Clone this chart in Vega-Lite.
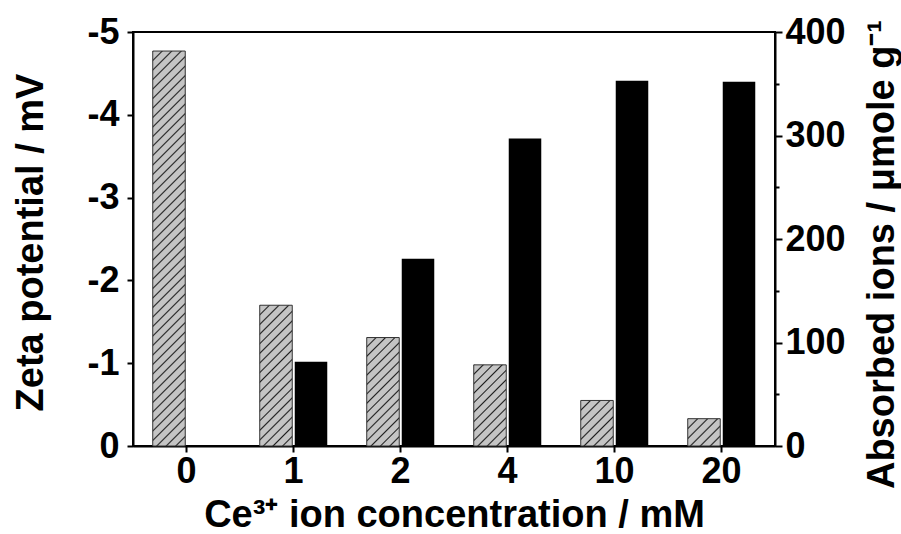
{
  "$schema": "https://vega.github.io/schema/vega-lite/v6.json",
  "width": 642,
  "height": 414,
  "autosize": {"type": "none"},
  "padding": {"left": 133, "top": 32, "right": 126, "bottom": 88},
  "background": "white",
  "config": {
    "font": "Liberation Sans",
    "view": {"stroke": "black", "strokeWidth": 2},
    "axis": {
      "domainColor": "black",
      "domainWidth": 2,
      "tickColor": "black",
      "tickWidth": 2,
      "labelColor": "black",
      "titleColor": "black",
      "labelFont": "Liberation Sans",
      "titleFont": "Liberation Sans",
      "labelFontWeight": "bold",
      "titleFontWeight": "bold",
      "labelFontSize": 36,
      "titleFontSize": 38,
      "grid": false
    }
  },
  "data": {
    "values": [
      {"c": "0", "s": "zeta", "v": -4.77},
      {"c": "1", "s": "zeta", "v": -1.70},
      {"c": "2", "s": "zeta", "v": -1.31},
      {"c": "4", "s": "zeta", "v": -0.98},
      {"c": "10", "s": "zeta", "v": -0.55},
      {"c": "20", "s": "zeta", "v": -0.33},
      {"c": "0", "s": "ions", "v": 0},
      {"c": "1", "s": "ions", "v": 81.5},
      {"c": "2", "s": "ions", "v": 181},
      {"c": "4", "s": "ions", "v": 297},
      {"c": "10", "s": "ions", "v": 353},
      {"c": "20", "s": "ions", "v": 352}
    ]
  },
  "encoding": {
    "x": {
      "field": "c",
      "type": "nominal",
      "sort": ["0", "1", "2", "4", "10", "20"],
      "scale": {"domain": ["0", "1", "2", "4", "10", "20"], "paddingInner": 0, "paddingOuter": 0},
      "axis": {
        "title": "Ce³⁺ ion concentration / mM",
        "labelAngle": 0,
        "tickSize": 6,
        "labelPadding": 2,
        "titlePadding": 37,
        "titleBaseline": "alphabetic"
      }
    },
    "xOffset": {
      "field": "s",
      "type": "nominal",
      "scale": {"domain": ["zeta", "ions"], "paddingInner": 0.071, "paddingOuter": 0.564}
    }
  },
  "layer": [
    {
      "encoding": {
        "y": {
          "field": "v",
          "type": "quantitative",
          "scale": {"domain": [0, -5]},
          "axis": {
            "orient": "left",
            "values": [0, -1, -2, -3, -4, -5],
            "labelExpr": "datum.value == 0 ? '0' : '-' + abs(datum.value)",
            "title": "Zeta potential / mV",
            "tickSize": 6,
            "labelPadding": 8,
            "titleBaseline": "alphabetic",
            "titleX": -91,
            "titleY": 210
          }
        }
      },
      "layer": [
        {
          "transform": [{"filter": "datum.s == 'zeta' && datum.c == '0'"}],
          "mark": {"type": "bar", "stroke": "#333333", "strokeWidth": 1, "fill": {"gradient": "linear", "x1": 0, "y1": 0, "x2": 0.0885, "y2": 1.075, "stops": [
            {"offset": 0, "color": "#1f1f1f"}, {"offset": 0.0036, "color": "#c4c4c4"}, {"offset": 0.0187, "color": "#c4c4c4"},
            {"offset": 0.0222, "color": "#1f1f1f"}, {"offset": 0.0258, "color": "#c4c4c4"}, {"offset": 0.0409, "color": "#c4c4c4"},
            {"offset": 0.0444, "color": "#1f1f1f"}, {"offset": 0.0480, "color": "#c4c4c4"}, {"offset": 0.0631, "color": "#c4c4c4"},
            {"offset": 0.0667, "color": "#1f1f1f"}, {"offset": 0.0702, "color": "#c4c4c4"}, {"offset": 0.0853, "color": "#c4c4c4"},
            {"offset": 0.0889, "color": "#1f1f1f"}, {"offset": 0.0924, "color": "#c4c4c4"}, {"offset": 0.1076, "color": "#c4c4c4"},
            {"offset": 0.1111, "color": "#1f1f1f"}, {"offset": 0.1147, "color": "#c4c4c4"}, {"offset": 0.1298, "color": "#c4c4c4"},
            {"offset": 0.1333, "color": "#1f1f1f"}, {"offset": 0.1369, "color": "#c4c4c4"}, {"offset": 0.1520, "color": "#c4c4c4"},
            {"offset": 0.1556, "color": "#1f1f1f"}, {"offset": 0.1591, "color": "#c4c4c4"}, {"offset": 0.1742, "color": "#c4c4c4"},
            {"offset": 0.1778, "color": "#1f1f1f"}, {"offset": 0.1813, "color": "#c4c4c4"}, {"offset": 0.1964, "color": "#c4c4c4"},
            {"offset": 0.2000, "color": "#1f1f1f"}, {"offset": 0.2036, "color": "#c4c4c4"}, {"offset": 0.2187, "color": "#c4c4c4"},
            {"offset": 0.2222, "color": "#1f1f1f"}, {"offset": 0.2258, "color": "#c4c4c4"}, {"offset": 0.2409, "color": "#c4c4c4"},
            {"offset": 0.2444, "color": "#1f1f1f"}, {"offset": 0.2480, "color": "#c4c4c4"}, {"offset": 0.2631, "color": "#c4c4c4"},
            {"offset": 0.2667, "color": "#1f1f1f"}, {"offset": 0.2702, "color": "#c4c4c4"}, {"offset": 0.2853, "color": "#c4c4c4"},
            {"offset": 0.2889, "color": "#1f1f1f"}, {"offset": 0.2924, "color": "#c4c4c4"}, {"offset": 0.3076, "color": "#c4c4c4"},
            {"offset": 0.3111, "color": "#1f1f1f"}, {"offset": 0.3147, "color": "#c4c4c4"}, {"offset": 0.3298, "color": "#c4c4c4"},
            {"offset": 0.3333, "color": "#1f1f1f"}, {"offset": 0.3369, "color": "#c4c4c4"}, {"offset": 0.3520, "color": "#c4c4c4"},
            {"offset": 0.3556, "color": "#1f1f1f"}, {"offset": 0.3591, "color": "#c4c4c4"}, {"offset": 0.3742, "color": "#c4c4c4"},
            {"offset": 0.3778, "color": "#1f1f1f"}, {"offset": 0.3813, "color": "#c4c4c4"}, {"offset": 0.3964, "color": "#c4c4c4"},
            {"offset": 0.4000, "color": "#1f1f1f"}, {"offset": 0.4036, "color": "#c4c4c4"}, {"offset": 0.4187, "color": "#c4c4c4"},
            {"offset": 0.4222, "color": "#1f1f1f"}, {"offset": 0.4258, "color": "#c4c4c4"}, {"offset": 0.4409, "color": "#c4c4c4"},
            {"offset": 0.4444, "color": "#1f1f1f"}, {"offset": 0.4480, "color": "#c4c4c4"}, {"offset": 0.4631, "color": "#c4c4c4"},
            {"offset": 0.4667, "color": "#1f1f1f"}, {"offset": 0.4702, "color": "#c4c4c4"}, {"offset": 0.4853, "color": "#c4c4c4"},
            {"offset": 0.4889, "color": "#1f1f1f"}, {"offset": 0.4924, "color": "#c4c4c4"}, {"offset": 0.5076, "color": "#c4c4c4"},
            {"offset": 0.5111, "color": "#1f1f1f"}, {"offset": 0.5147, "color": "#c4c4c4"}, {"offset": 0.5298, "color": "#c4c4c4"},
            {"offset": 0.5333, "color": "#1f1f1f"}, {"offset": 0.5369, "color": "#c4c4c4"}, {"offset": 0.5520, "color": "#c4c4c4"},
            {"offset": 0.5556, "color": "#1f1f1f"}, {"offset": 0.5591, "color": "#c4c4c4"}, {"offset": 0.5742, "color": "#c4c4c4"},
            {"offset": 0.5778, "color": "#1f1f1f"}, {"offset": 0.5813, "color": "#c4c4c4"}, {"offset": 0.5964, "color": "#c4c4c4"},
            {"offset": 0.6000, "color": "#1f1f1f"}, {"offset": 0.6036, "color": "#c4c4c4"}, {"offset": 0.6187, "color": "#c4c4c4"},
            {"offset": 0.6222, "color": "#1f1f1f"}, {"offset": 0.6258, "color": "#c4c4c4"}, {"offset": 0.6409, "color": "#c4c4c4"},
            {"offset": 0.6444, "color": "#1f1f1f"}, {"offset": 0.6480, "color": "#c4c4c4"}, {"offset": 0.6631, "color": "#c4c4c4"},
            {"offset": 0.6667, "color": "#1f1f1f"}, {"offset": 0.6702, "color": "#c4c4c4"}, {"offset": 0.6853, "color": "#c4c4c4"},
            {"offset": 0.6889, "color": "#1f1f1f"}, {"offset": 0.6924, "color": "#c4c4c4"}, {"offset": 0.7076, "color": "#c4c4c4"},
            {"offset": 0.7111, "color": "#1f1f1f"}, {"offset": 0.7147, "color": "#c4c4c4"}, {"offset": 0.7298, "color": "#c4c4c4"},
            {"offset": 0.7333, "color": "#1f1f1f"}, {"offset": 0.7369, "color": "#c4c4c4"}, {"offset": 0.7520, "color": "#c4c4c4"},
            {"offset": 0.7556, "color": "#1f1f1f"}, {"offset": 0.7591, "color": "#c4c4c4"}, {"offset": 0.7742, "color": "#c4c4c4"},
            {"offset": 0.7778, "color": "#1f1f1f"}, {"offset": 0.7813, "color": "#c4c4c4"}, {"offset": 0.7964, "color": "#c4c4c4"},
            {"offset": 0.8000, "color": "#1f1f1f"}, {"offset": 0.8036, "color": "#c4c4c4"}, {"offset": 0.8187, "color": "#c4c4c4"},
            {"offset": 0.8222, "color": "#1f1f1f"}, {"offset": 0.8258, "color": "#c4c4c4"}, {"offset": 0.8409, "color": "#c4c4c4"},
            {"offset": 0.8444, "color": "#1f1f1f"}, {"offset": 0.8480, "color": "#c4c4c4"}, {"offset": 0.8631, "color": "#c4c4c4"},
            {"offset": 0.8667, "color": "#1f1f1f"}, {"offset": 0.8702, "color": "#c4c4c4"}, {"offset": 0.8853, "color": "#c4c4c4"},
            {"offset": 0.8889, "color": "#1f1f1f"}, {"offset": 0.8924, "color": "#c4c4c4"}, {"offset": 0.9076, "color": "#c4c4c4"},
            {"offset": 0.9111, "color": "#1f1f1f"}, {"offset": 0.9147, "color": "#c4c4c4"}, {"offset": 0.9298, "color": "#c4c4c4"},
            {"offset": 0.9333, "color": "#1f1f1f"}, {"offset": 0.9369, "color": "#c4c4c4"}, {"offset": 0.9520, "color": "#c4c4c4"},
            {"offset": 0.9556, "color": "#1f1f1f"}, {"offset": 0.9591, "color": "#c4c4c4"}, {"offset": 0.9742, "color": "#c4c4c4"},
            {"offset": 0.9778, "color": "#1f1f1f"}, {"offset": 0.9813, "color": "#c4c4c4"}, {"offset": 0.9964, "color": "#c4c4c4"},
            {"offset": 1, "color": "#1f1f1f"}
          ]}}
        },
        {
          "transform": [{"filter": "datum.s == 'zeta' && datum.c == '1'"}],
          "mark": {"type": "bar", "stroke": "#333333", "strokeWidth": 1, "fill": {"gradient": "linear", "x1": 0, "y1": 0, "x2": 0.2698, "y2": 1.1686, "stops": [
            {"offset": 0, "color": "#1f1f1f"}, {"offset": 0.0089, "color": "#c4c4c4"}, {"offset": 0.0467, "color": "#c4c4c4"},
            {"offset": 0.0556, "color": "#1f1f1f"}, {"offset": 0.0644, "color": "#c4c4c4"}, {"offset": 0.1022, "color": "#c4c4c4"},
            {"offset": 0.1111, "color": "#1f1f1f"}, {"offset": 0.1200, "color": "#c4c4c4"}, {"offset": 0.1578, "color": "#c4c4c4"},
            {"offset": 0.1667, "color": "#1f1f1f"}, {"offset": 0.1756, "color": "#c4c4c4"}, {"offset": 0.2133, "color": "#c4c4c4"},
            {"offset": 0.2222, "color": "#1f1f1f"}, {"offset": 0.2311, "color": "#c4c4c4"}, {"offset": 0.2689, "color": "#c4c4c4"},
            {"offset": 0.2778, "color": "#1f1f1f"}, {"offset": 0.2867, "color": "#c4c4c4"}, {"offset": 0.3244, "color": "#c4c4c4"},
            {"offset": 0.3333, "color": "#1f1f1f"}, {"offset": 0.3422, "color": "#c4c4c4"}, {"offset": 0.3800, "color": "#c4c4c4"},
            {"offset": 0.3889, "color": "#1f1f1f"}, {"offset": 0.3978, "color": "#c4c4c4"}, {"offset": 0.4356, "color": "#c4c4c4"},
            {"offset": 0.4444, "color": "#1f1f1f"}, {"offset": 0.4533, "color": "#c4c4c4"}, {"offset": 0.4911, "color": "#c4c4c4"},
            {"offset": 0.5000, "color": "#1f1f1f"}, {"offset": 0.5089, "color": "#c4c4c4"}, {"offset": 0.5467, "color": "#c4c4c4"},
            {"offset": 0.5556, "color": "#1f1f1f"}, {"offset": 0.5644, "color": "#c4c4c4"}, {"offset": 0.6022, "color": "#c4c4c4"},
            {"offset": 0.6111, "color": "#1f1f1f"}, {"offset": 0.6200, "color": "#c4c4c4"}, {"offset": 0.6578, "color": "#c4c4c4"},
            {"offset": 0.6667, "color": "#1f1f1f"}, {"offset": 0.6756, "color": "#c4c4c4"}, {"offset": 0.7133, "color": "#c4c4c4"},
            {"offset": 0.7222, "color": "#1f1f1f"}, {"offset": 0.7311, "color": "#c4c4c4"}, {"offset": 0.7689, "color": "#c4c4c4"},
            {"offset": 0.7778, "color": "#1f1f1f"}, {"offset": 0.7867, "color": "#c4c4c4"}, {"offset": 0.8244, "color": "#c4c4c4"},
            {"offset": 0.8333, "color": "#1f1f1f"}, {"offset": 0.8422, "color": "#c4c4c4"}, {"offset": 0.8800, "color": "#c4c4c4"},
            {"offset": 0.8889, "color": "#1f1f1f"}, {"offset": 0.8978, "color": "#c4c4c4"}, {"offset": 0.9356, "color": "#c4c4c4"},
            {"offset": 0.9444, "color": "#1f1f1f"}, {"offset": 0.9533, "color": "#c4c4c4"}, {"offset": 0.9911, "color": "#c4c4c4"},
            {"offset": 1, "color": "#1f1f1f"}
          ]}}
        },
        {
          "transform": [{"filter": "datum.s == 'zeta' && datum.c == '2'"}],
          "mark": {"type": "bar", "stroke": "#333333", "strokeWidth": 1, "fill": {"gradient": "linear", "x1": 0, "y1": 0, "x2": 0.3573, "y2": 1.1926, "stops": [
            {"offset": 0, "color": "#1f1f1f"}, {"offset": 0.0107, "color": "#c4c4c4"}, {"offset": 0.0560, "color": "#c4c4c4"},
            {"offset": 0.0667, "color": "#1f1f1f"}, {"offset": 0.0773, "color": "#c4c4c4"}, {"offset": 0.1227, "color": "#c4c4c4"},
            {"offset": 0.1333, "color": "#1f1f1f"}, {"offset": 0.1440, "color": "#c4c4c4"}, {"offset": 0.1893, "color": "#c4c4c4"},
            {"offset": 0.2000, "color": "#1f1f1f"}, {"offset": 0.2107, "color": "#c4c4c4"}, {"offset": 0.2560, "color": "#c4c4c4"},
            {"offset": 0.2667, "color": "#1f1f1f"}, {"offset": 0.2773, "color": "#c4c4c4"}, {"offset": 0.3227, "color": "#c4c4c4"},
            {"offset": 0.3333, "color": "#1f1f1f"}, {"offset": 0.3440, "color": "#c4c4c4"}, {"offset": 0.3893, "color": "#c4c4c4"},
            {"offset": 0.4000, "color": "#1f1f1f"}, {"offset": 0.4107, "color": "#c4c4c4"}, {"offset": 0.4560, "color": "#c4c4c4"},
            {"offset": 0.4667, "color": "#1f1f1f"}, {"offset": 0.4773, "color": "#c4c4c4"}, {"offset": 0.5227, "color": "#c4c4c4"},
            {"offset": 0.5333, "color": "#1f1f1f"}, {"offset": 0.5440, "color": "#c4c4c4"}, {"offset": 0.5893, "color": "#c4c4c4"},
            {"offset": 0.6000, "color": "#1f1f1f"}, {"offset": 0.6107, "color": "#c4c4c4"}, {"offset": 0.6560, "color": "#c4c4c4"},
            {"offset": 0.6667, "color": "#1f1f1f"}, {"offset": 0.6773, "color": "#c4c4c4"}, {"offset": 0.7227, "color": "#c4c4c4"},
            {"offset": 0.7333, "color": "#1f1f1f"}, {"offset": 0.7440, "color": "#c4c4c4"}, {"offset": 0.7893, "color": "#c4c4c4"},
            {"offset": 0.8000, "color": "#1f1f1f"}, {"offset": 0.8107, "color": "#c4c4c4"}, {"offset": 0.8560, "color": "#c4c4c4"},
            {"offset": 0.8667, "color": "#1f1f1f"}, {"offset": 0.8773, "color": "#c4c4c4"}, {"offset": 0.9227, "color": "#c4c4c4"},
            {"offset": 0.9333, "color": "#1f1f1f"}, {"offset": 0.9440, "color": "#c4c4c4"}, {"offset": 0.9893, "color": "#c4c4c4"},
            {"offset": 1, "color": "#1f1f1f"}
          ]}}
        },
        {
          "transform": [{"filter": "datum.s == 'zeta' && datum.c == '4'"}],
          "mark": {"type": "bar", "stroke": "#333333", "strokeWidth": 1, "fill": {"gradient": "linear", "x1": 0, "y1": 0, "x2": 0.4834, "y2": 1.2069, "stops": [
            {"offset": 0, "color": "#1f1f1f"}, {"offset": 0.0133, "color": "#c4c4c4"}, {"offset": 0.0700, "color": "#c4c4c4"},
            {"offset": 0.0833, "color": "#1f1f1f"}, {"offset": 0.0967, "color": "#c4c4c4"}, {"offset": 0.1533, "color": "#c4c4c4"},
            {"offset": 0.1667, "color": "#1f1f1f"}, {"offset": 0.1800, "color": "#c4c4c4"}, {"offset": 0.2367, "color": "#c4c4c4"},
            {"offset": 0.2500, "color": "#1f1f1f"}, {"offset": 0.2633, "color": "#c4c4c4"}, {"offset": 0.3200, "color": "#c4c4c4"},
            {"offset": 0.3333, "color": "#1f1f1f"}, {"offset": 0.3467, "color": "#c4c4c4"}, {"offset": 0.4033, "color": "#c4c4c4"},
            {"offset": 0.4167, "color": "#1f1f1f"}, {"offset": 0.4300, "color": "#c4c4c4"}, {"offset": 0.4867, "color": "#c4c4c4"},
            {"offset": 0.5000, "color": "#1f1f1f"}, {"offset": 0.5133, "color": "#c4c4c4"}, {"offset": 0.5700, "color": "#c4c4c4"},
            {"offset": 0.5833, "color": "#1f1f1f"}, {"offset": 0.5967, "color": "#c4c4c4"}, {"offset": 0.6533, "color": "#c4c4c4"},
            {"offset": 0.6667, "color": "#1f1f1f"}, {"offset": 0.6800, "color": "#c4c4c4"}, {"offset": 0.7367, "color": "#c4c4c4"},
            {"offset": 0.7500, "color": "#1f1f1f"}, {"offset": 0.7633, "color": "#c4c4c4"}, {"offset": 0.8200, "color": "#c4c4c4"},
            {"offset": 0.8333, "color": "#1f1f1f"}, {"offset": 0.8467, "color": "#c4c4c4"}, {"offset": 0.9033, "color": "#c4c4c4"},
            {"offset": 0.9167, "color": "#1f1f1f"}, {"offset": 0.9300, "color": "#c4c4c4"}, {"offset": 0.9867, "color": "#c4c4c4"},
            {"offset": 1, "color": "#1f1f1f"}
          ]}}
        },
        {
          "transform": [{"filter": "datum.s == 'zeta' && datum.c == '10'"}],
          "mark": {"type": "bar", "stroke": "#333333", "strokeWidth": 1, "fill": {"gradient": "linear", "x1": 0, "y1": 0, "x2": 0.8103, "y2": 1.1354, "stops": [
            {"offset": 0, "color": "#1f1f1f"}, {"offset": 0.020, "color": "#c4c4c4"}, {"offset": 0.105, "color": "#c4c4c4"},
            {"offset": 0.125, "color": "#1f1f1f"}, {"offset": 0.145, "color": "#c4c4c4"}, {"offset": 0.230, "color": "#c4c4c4"},
            {"offset": 0.250, "color": "#1f1f1f"}, {"offset": 0.270, "color": "#c4c4c4"}, {"offset": 0.355, "color": "#c4c4c4"},
            {"offset": 0.375, "color": "#1f1f1f"}, {"offset": 0.395, "color": "#c4c4c4"}, {"offset": 0.480, "color": "#c4c4c4"},
            {"offset": 0.500, "color": "#1f1f1f"}, {"offset": 0.520, "color": "#c4c4c4"}, {"offset": 0.605, "color": "#c4c4c4"},
            {"offset": 0.625, "color": "#1f1f1f"}, {"offset": 0.645, "color": "#c4c4c4"}, {"offset": 0.730, "color": "#c4c4c4"},
            {"offset": 0.750, "color": "#1f1f1f"}, {"offset": 0.770, "color": "#c4c4c4"}, {"offset": 0.855, "color": "#c4c4c4"},
            {"offset": 0.875, "color": "#1f1f1f"}, {"offset": 0.895, "color": "#c4c4c4"}, {"offset": 0.980, "color": "#c4c4c4"},
            {"offset": 1, "color": "#1f1f1f"}
          ]}}
        },
        {
          "transform": [{"filter": "datum.s == 'zeta' && datum.c == '20'"}],
          "mark": {"type": "bar", "stroke": "#333333", "strokeWidth": 1, "fill": {"gradient": "linear", "x1": 0, "y1": 0, "x2": 1.0785, "y2": 0.9066, "stops": [
            {"offset": 0, "color": "#1f1f1f"}, {"offset": 0.0267, "color": "#c4c4c4"}, {"offset": 0.1400, "color": "#c4c4c4"},
            {"offset": 0.1667, "color": "#1f1f1f"}, {"offset": 0.1933, "color": "#c4c4c4"}, {"offset": 0.3067, "color": "#c4c4c4"},
            {"offset": 0.3333, "color": "#1f1f1f"}, {"offset": 0.3600, "color": "#c4c4c4"}, {"offset": 0.4733, "color": "#c4c4c4"},
            {"offset": 0.5000, "color": "#1f1f1f"}, {"offset": 0.5267, "color": "#c4c4c4"}, {"offset": 0.6400, "color": "#c4c4c4"},
            {"offset": 0.6667, "color": "#1f1f1f"}, {"offset": 0.6933, "color": "#c4c4c4"}, {"offset": 0.8067, "color": "#c4c4c4"},
            {"offset": 0.8333, "color": "#1f1f1f"}, {"offset": 0.8600, "color": "#c4c4c4"}, {"offset": 0.9733, "color": "#c4c4c4"},
            {"offset": 1, "color": "#1f1f1f"}
          ]}}
        }
      ]
    },
    {
      "transform": [{"filter": "datum.s == 'ions'"}],
      "mark": {"type": "bar", "fill": "black"},
      "encoding": {
        "y": {
          "field": "v",
          "type": "quantitative",
          "scale": {"domain": [0, 400]},
          "axis": {
            "orient": "right",
            "values": [0, 50, 100, 150, 200, 250, 300, 350, 400],
            "labelExpr": "datum.value % 100 == 0 ? datum.label : ''",
            "tickSize": {"condition": {"test": "datum.value % 100 != 0", "value": 4}, "value": 7},
            "labelPadding": 3,
            "title": "Absorbed ions / μmole g⁻¹",
            "titleAngle": -90,
            "titleBaseline": "alphabetic",
            "titleX": 118,
            "titleY": 222
          }
        }
      }
    }
  ],
  "resolve": {"scale": {"y": "independent"}}
}
